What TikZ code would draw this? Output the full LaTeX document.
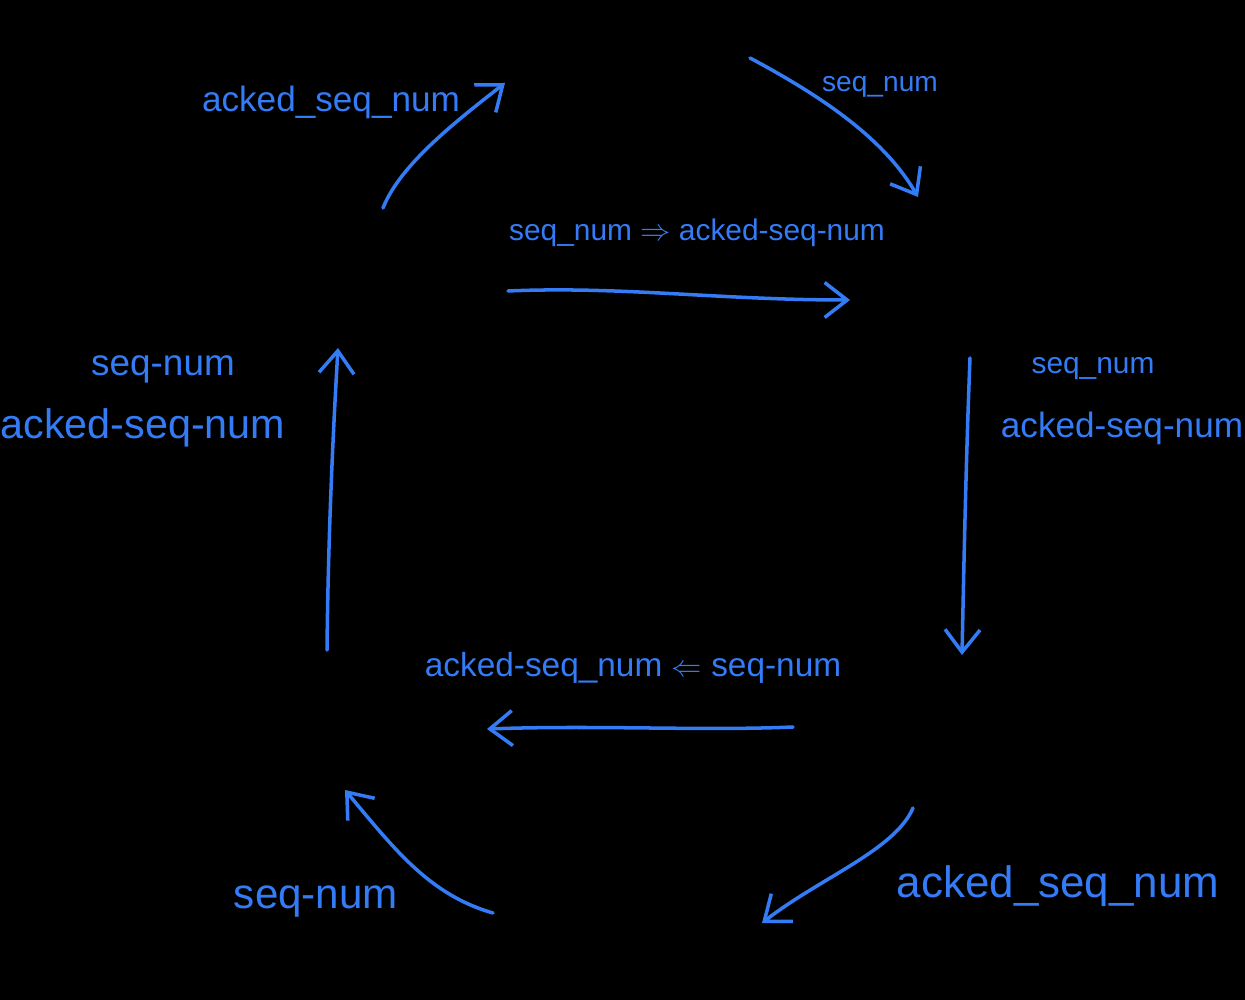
\documentclass[tikz,border=0pt]{standalone}
\usepackage{fontspec}
\setmainfont{Liberation Sans}
\usetikzlibrary{positioning,arrows.meta}

\definecolor{ink}{RGB}{52,123,246}

\begin{document}
\begin{tikzpicture}[x=0.02cm, y=-0.02cm,
        flow/.style={draw=ink, line width=2pt, line cap=round, line join=round, -{Straight Barb[length=4.5mm, width=7mm, line width=2pt]}},
        hand/.style={text=ink, inner sep=0pt, font=\fontsize{#1}{#1}\selectfont}]
        \fill[black] (0,0) rectangle (1245,1000);

        % end points of the strokes
        \coordinate (tl1) at (383,208);  \coordinate (tl2) at (505,83);
        \coordinate (tr1) at (750,58);   \coordinate (tr2) at (918,197);
        \coordinate (m1) at (508,291);   \coordinate (m2) at (850,300);
        \coordinate (r1) at (970,358);   \coordinate (r2) at (962,655);
        \coordinate (b1) at (793,727);   \coordinate (b2) at (487,729);
        \coordinate (br1) at (913,808);  \coordinate (br2) at (762,923);
        \coordinate (bl1) at (493,913);  \coordinate (bl2) at (345,790);
        \coordinate (l1) at (327,650);   \coordinate (l2) at (338,348);

        % labels
        \node[hand=20pt] (tlTxt) at (331,102) {acked\_seq\_num};
        \node[hand=16pt] (trTxt) at (880,87) {seq\_num};
        \node[hand=17pt] (mTxt) at (697,233) {seq\_num $\Rightarrow$ acked-seq-num};
        \node[hand=21pt] (lTxt1) at (163,369) {seq-num};
        \node[hand=23.5pt] (lTxt2) at (143,428) {acked-seq-num};
        \node[hand=17pt] (rTxt1) at (1093,369) {seq\_num};
        \node[hand=20pt] (rTxt2) at (1122,428) {acked-seq-num};
        \node[hand=19pt] (bTxt) at (633,668) {acked-seq\_num $\Leftarrow$ seq-num};
        \node[hand=24pt] (blTxt) at (316,902) {seq-num};
        \node[hand=25pt] (brTxt) at (1058,886) {acked\_seq\_num};

        % arrows
        \draw[flow] (tl1) .. controls (400,165) and (455,122) .. (tl2);
        \draw[flow] (tr1) .. controls (825,98) and (885,140) .. (tr2);
        \draw[flow] (m1) .. controls (620,286) and (720,300) .. (m2);
        \draw[flow] (r1) .. controls (966,460) and (964,560) .. (r2);
        \draw[flow] (b1) .. controls (700,731) and (600,725) .. (b2);
        \draw[flow] (br1) .. controls (895,850) and (820,878) .. (br2);
        \draw[flow] (bl1) .. controls (430,895) and (395,850) .. (bl2);
        \draw[flow] (l1) .. controls (328,550) and (332,450) .. (l2);
        \end{tikzpicture}
\end{document}
